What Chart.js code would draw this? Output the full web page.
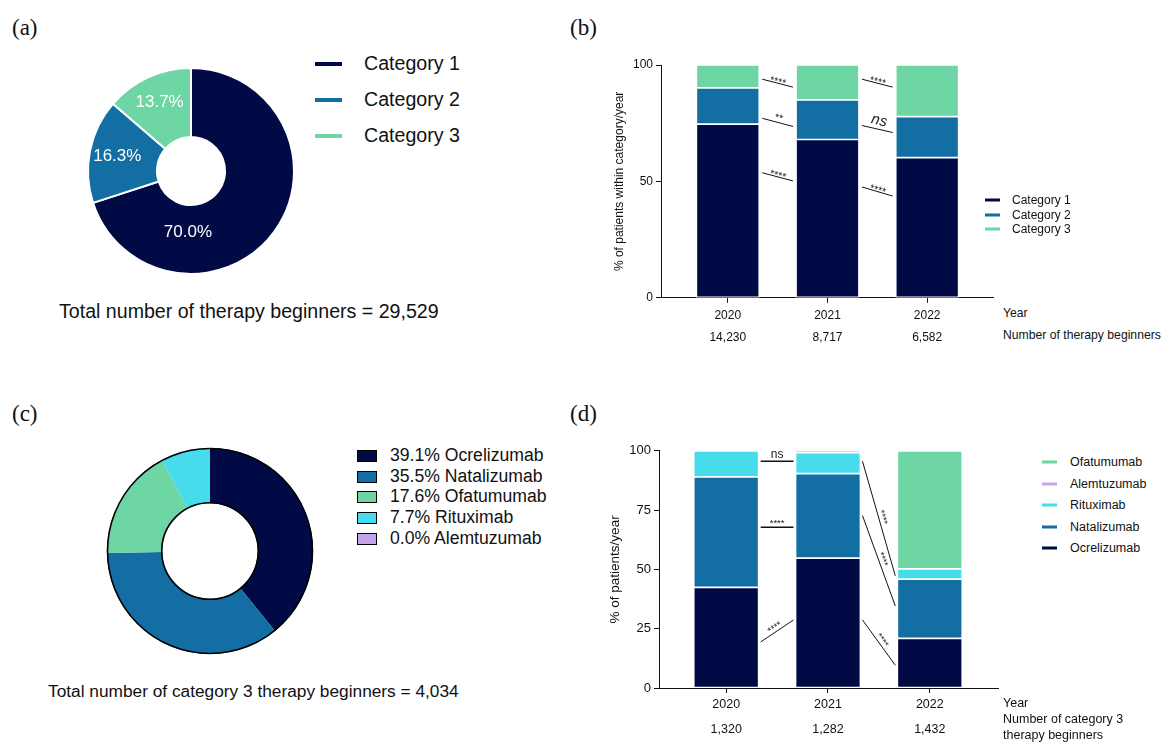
<!DOCTYPE html>
<html>
<head>
<meta charset="utf-8">
<script src="https://cdn.jsdelivr.net/npm/chart.js@4.4.1/dist/chart.umd.min.js"></script>
<style>
  html, body { margin: 0; padding: 0; background: #fff; }
  #fig { position: relative; width: 1163px; height: 742px; background: #fff; overflow: hidden;
         font-family: "Liberation Sans", Arial, sans-serif; color: #111; }
  #fig canvas { position: absolute; }
  .t { position: absolute; white-space: nowrap; transform: translateY(-50%); line-height: 1; }
  .panel { font-family: "Liberation Serif", "Times New Roman", serif; font-size: 23px; }
  .leg-line { position: absolute; height: 4px; transform: translateY(-50%); }
  .leg-box { position: absolute; width: 18px; height: 10px; border: 1.5px solid #000; transform: translateY(-50%); }
</style>
</head>
<body>
<div id="fig">
  <div class="t panel" style="left:12px;top:27px">(a)</div>
  <div class="t panel" style="left:570px;top:27px">(b)</div>
  <div class="t panel" style="left:12px;top:413px">(c)</div>
  <div class="t panel" style="left:570px;top:413px">(d)</div>

  <canvas id="chartA" width="220" height="220" style="left:81px;top:61px"></canvas>
  <canvas id="chartB" width="410" height="300" style="left:590px;top:50px"></canvas>
  <canvas id="chartC" width="220" height="220" style="left:100px;top:441px"></canvas>
  <canvas id="chartD" width="415" height="301" style="left:590px;top:440px"></canvas>

  <div class="t" style="left:59px;top:312px;font-size:19.6px">Total number of therapy beginners = 29,529</div>
  <div class="t" style="left:48px;top:692px;font-size:17.3px">Total number of category 3 therapy beginners = 4,034</div>

  <div class="t" style="left:1003px;top:313px;font-size:12.2px">Year</div>
  <div class="t" style="left:1003px;top:335px;font-size:12.2px">Number of therapy beginners</div>
  <div class="t" style="left:1003px;top:703px;font-size:12.5px">Year</div>
  <div class="t" style="left:1003px;top:719px;font-size:12.5px">Number of category 3</div>
  <div class="t" style="left:1003px;top:735px;font-size:12.5px">therapy beginners</div>

  <div id="legA"></div>
  <div id="legB"></div>
  <div id="legC"></div>
  <div id="legD"></div>
</div>

<script>
// data
const years = ['2020', '2021', '2022'];
const beginnersAll = ['14,230', '8,717', '6,582'];
const beginnersCat3 = ['1,320', '1,282', '1,432'];

const categoryNames = ['Category 1', 'Category 2', 'Category 3'];
const categoryShare = [70.0, 16.3, 13.7];
const cat1ByYear = [74.6, 68.0, 60.2];
const cat2ByYear = [15.6, 17.0, 17.6];
const cat3ByYear = [9.8, 15.0, 22.2];

const drugNames = ['Ocrelizumab', 'Natalizumab', 'Ofatumumab', 'Rituximab', 'Alemtuzumab'];
const drugShare = [39.1, 35.5, 17.6, 7.7, 0.0];
const ocreByYear = [42.4, 54.8, 20.9];
const nataByYear = [46.6, 35.6, 25.0];
const rituxByYear = [11.0, 8.8, 4.3];
const alemByYear = [0, 0, 0];
const ofaByYear = [0, 0.8, 49.8];

// significance marks: between bar `from` and `from + 1`, y in % units
const sigB = [
  { from: 0, y1: 93.9, y2: 90.5, text: '****' },
  { from: 0, y1: 77.1, y2: 73.6, text: '**' },
  { from: 0, y1: 53.7, y2: 50.2, text: '****' },
  { from: 1, y1: 93.9, y2: 90.5, text: '****' },
  { from: 1, y1: 74.0, y2: 71.0, text: 'ns' },
  { from: 1, y1: 47.6, y2: 43.7, text: '****' },
];
const sigD = [
  { from: 0, y1: 95.6, y2: 95.6, text: 'ns' },
  { from: 0, y1: 67.8, y2: 67.8, text: '****' },
  { from: 0, y1: 19.4, y2: 28.7, text: '****' },
  { from: 1, y1: 95.6, y2: 47.3, text: '****' },
  { from: 1, y1: 72.7, y2: 34.6, text: '****' },
  { from: 1, y1: 28.7, y2: 9.6, text: '****' },
];

const NAVY = '#020a45';
const BLUE = '#126ea3';
const MINT = '#6dd6a4';
const CYAN = '#46dcec';
const LILAC = '#c3a5ee';
const catColors = [NAVY, BLUE, MINT];
const drugColors = [NAVY, BLUE, MINT, CYAN, LILAC];

Chart.defaults.font.family = '"Liberation Sans", Arial, sans-serif';
Chart.defaults.color = '#111';
Chart.defaults.animation = false;

// ---- legends (html) ----
function addText(parent, x, y, size, txt) {
  const d = document.createElement('div');
  d.className = 't';
  d.style.left = x + 'px';
  d.style.top = y + 'px';
  d.style.fontSize = size + 'px';
  d.textContent = txt;
  parent.appendChild(d);
}
function lineLegend(id, names, colors, x, y0, dy, w, h, tx, size) {
  const el = document.getElementById(id);
  names.forEach((n, i) => {
    const l = document.createElement('div');
    l.className = 'leg-line';
    l.style.cssText = `left:${x}px;top:${y0 + i * dy}px;width:${w}px;height:${h}px;background:${colors[i]}`;
    el.appendChild(l);
    addText(el, tx, y0 + i * dy, size, n);
  });
}
lineLegend('legA', categoryNames, catColors, 315, 64, 36, 27, 4, 364, 19.6);
lineLegend('legB', categoryNames, catColors, 985, 200, 14.5, 15, 3, 1012, 12);
lineLegend('legD', ['Ofatumumab', 'Alemtuzumab', 'Rituximab', 'Natalizumab', 'Ocrelizumab'],
  [MINT, LILAC, CYAN, BLUE, NAVY], 1042, 462, 21.5, 15, 3, 1070, 12.5);

(function () {
  const el = document.getElementById('legC');
  drugNames.forEach((n, i) => {
    const y = 456 + i * 20.7;
    const b = document.createElement('div');
    b.className = 'leg-box';
    b.style.cssText = `left:357px;top:${y}px;background:${drugColors[i]}`;
    el.appendChild(b);
    addText(el, 390, y, 17.6, drugShare[i].toFixed(1) + '% ' + n);
  });
})();

// ---- plugins ----
const pieLabels = {
  id: 'pieLabels',
  afterDatasetsDraw(chart) {
    const { ctx } = chart;
    const meta = chart.getDatasetMeta(0);
    ctx.save();
    ctx.fillStyle = '#fff';
    ctx.font = '17px "Liberation Sans", Arial, sans-serif';
    ctx.textAlign = 'center';
    ctx.textBaseline = 'middle';
    meta.data.forEach((arc, i) => {
      const span = arc.endAngle - arc.startAngle;
      const big = span > Math.PI;
      const a = big ? Math.PI / 2 + 0.05 : (arc.startAngle + arc.endAngle) / 2;
      const r = arc.outerRadius * (big ? 0.6 : 0.73);
      ctx.fillText(categoryShare[i].toFixed(1) + '%', arc.x + Math.cos(a) * r, arc.y + Math.sin(a) * r);
    });
    ctx.restore();
  },
};

const ringOutline = {
  id: 'ringOutline',
  afterDatasetsDraw(chart) {
    const { ctx } = chart;
    const arc = chart.getDatasetMeta(0).data[0];
    ctx.save();
    ctx.strokeStyle = '#000';
    ctx.lineWidth = 1.6;
    [arc.outerRadius - 0.5, arc.innerRadius + 0.5].forEach((r) => {
      ctx.beginPath();
      ctx.arc(arc.x, arc.y, r, 0, Math.PI * 2);
      ctx.stroke();
    });
    ctx.restore();
  },
};

function sigPlugin(list, barW, gap, fontPx, lift) {
  return {
    id: 'sig',
    afterDatasetsDraw(chart) {
      const { ctx, scales: { x, y } } = chart;
      ctx.save();
      ctx.strokeStyle = '#111';
      ctx.fillStyle = '#222';
      list.forEach((s) => {
        const x1 = x.getPixelForValue(s.from) + barW / 2 + gap;
        const x2 = x.getPixelForValue(s.from + 1) - barW / 2 - gap;
        const y1 = y.getPixelForValue(s.y1);
        const y2 = y.getPixelForValue(s.y2);
        ctx.lineWidth = s.y1 === s.y2 ? 1.5 : 1;
        ctx.beginPath();
        ctx.moveTo(x1, y1);
        ctx.lineTo(x2, y2);
        ctx.stroke();
        const ang = Math.atan2(y2 - y1, x2 - x1);
        ctx.save();
        ctx.translate((x1 + x2) / 2, (y1 + y2) / 2);
        ctx.rotate(ang);
        ctx.textAlign = 'center';
        ctx.textBaseline = 'bottom';
        const isNs = s.text === 'ns';
        ctx.font = (isNs ? fontPx.ns : fontPx.star) + 'px "Liberation Sans", Arial, sans-serif';
        if (isNs && fontPx.italic) ctx.font = 'italic ' + ctx.font;
        ctx.fillText(s.text, 0, isNs ? -1 : (s.text === '****' ? lift + 3 : lift));
        ctx.restore();
      });
      ctx.restore();
    },
  };
}

// ---- (a) doughnut ----
new Chart(document.getElementById('chartA'), {
  type: 'doughnut',
  data: {
    labels: categoryNames,
    datasets: [{ data: categoryShare, backgroundColor: catColors, borderColor: '#fff', borderWidth: 2 }],
  },
  options: {
    responsive: false,
    radius: 103,
    cutout: 36,
    plugins: { legend: { display: false }, tooltip: { enabled: false } },
  },
  plugins: [pieLabels],
});

// ---- (c) doughnut ----
new Chart(document.getElementById('chartC'), {
  type: 'doughnut',
  data: {
    labels: drugNames,
    datasets: [{ data: drugShare, backgroundColor: drugColors, borderWidth: 0 }],
  },
  options: {
    responsive: false,
    radius: 103,
    cutout: 51,
    plugins: { legend: { display: false }, tooltip: { enabled: false } },
  },
  plugins: [ringOutline],
});

// ---- stacked bars ----
function stackedBar(canvasId, series, names, colors, opts) {
  const datasets = series.map((vals, k) => ({
    label: names[k],
    data: vals.map((v, i) => ({ x: i, y: v })),
    backgroundColor: colors[k],
    borderColor: '#fff',
    borderWidth: 1.2,
    borderSkipped: false,
    barThickness: opts.barW,
  }));
  return new Chart(document.getElementById(canvasId), {
    type: 'bar',
    data: { datasets },
    options: {
      responsive: false,
      layout: { padding: opts.padding },
      plugins: { legend: { display: false }, tooltip: { enabled: false } },
      scales: {
        x: {
          type: 'linear',
          stacked: true,
          offset: false,
          min: opts.xMin,
          max: opts.xMax,
          afterBuildTicks: (s) => { s.ticks = years.map((_, i) => ({ value: i })); },
          ticks: {
            autoSkip: false,
            maxRotation: 0,
            color: '#111',
            padding: opts.xPad,
            font: { size: opts.xFont, lineHeight: opts.xLine },
            callback: (v) => [years[v], opts.counts[v]],
          },
          grid: { offset: false, drawOnChartArea: false, tickLength: 5, color: '#111', tickWidth: 1 },
          border: { color: '#111', width: 1 },
        },
        y: {
          stacked: true,
          min: 0,
          max: 100,
          afterFit: (s) => { s.width = opts.yWidth; },
          ticks: { stepSize: opts.yStep, color: '#111', font: { size: opts.yFont }, padding: 3 },
          grid: { drawOnChartArea: false, tickLength: 5, color: '#111' },
          border: { color: '#111', width: 1 },
          title: { display: true, text: opts.yTitle, font: { size: opts.yTitleFont }, color: '#111', padding: 0 },
        },
      },
    },
    plugins: [opts.sig],
  });
}

stackedBar('chartB', [cat1ByYear, cat2ByYear, cat3ByYear], categoryNames, catColors, {
  barW: 63, xMin: -0.67, xMax: 2.66, counts: beginnersAll,
  padding: { left: 22, top: 15, right: 7, bottom: 0 },
  yWidth: 49, yStep: 50, yFont: 12, xFont: 12, xLine: 1.8, xPad: 2,
  yTitle: '% of patients within category/year', yTitleFont: 12,
  sig: sigPlugin(sigB, 63, 3, { star: 10.5, ns: 15, italic: true }, 1),
});

stackedBar('chartD', [ocreByYear, nataByYear, rituxByYear, alemByYear, ofaByYear],
  ['Ocrelizumab', 'Natalizumab', 'Rituximab', 'Alemtuzumab', 'Ofatumumab'],
  [NAVY, BLUE, CYAN, LILAC, MINT], {
  barW: 65, xMin: -0.66, xMax: 2.67, counts: beginnersCat3,
  padding: { left: 17, top: 5, right: 7, bottom: 0 },
  yWidth: 52, yStep: 25, yFont: 13, xFont: 12.5, xLine: 2.0, xPad: -1,
  yTitle: '% of patients/year', yTitleFont: 13.5,
  sig: sigPlugin(sigD, 65, 2, { star: 9.5, ns: 12, italic: false }, -2),
});
</script>
</body>
</html>
